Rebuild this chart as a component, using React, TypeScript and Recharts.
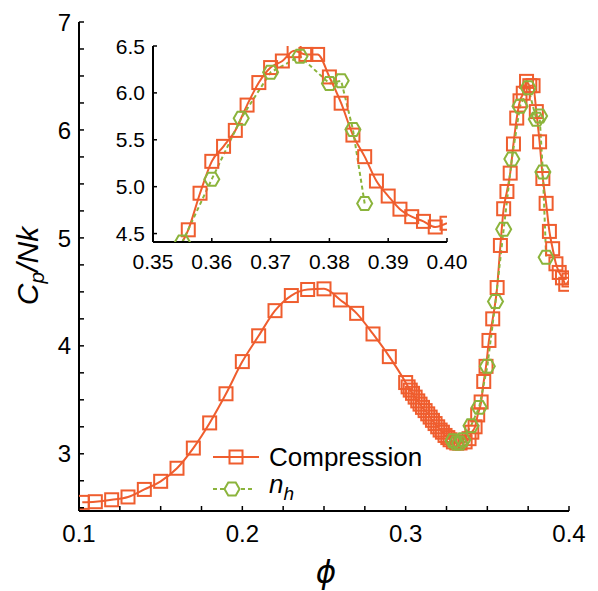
import React from 'react';
import { LineChart, Line, XAxis, YAxis, Legend } from 'recharts';

// compression run (squares)
const compPhi = [
  0.102, 0.11, 0.12, 0.13, 0.14, 0.15, 0.16, 0.17, 0.18, 0.19, 0.2, 0.21, 0.22, 0.23, 0.24, 0.25, 0.26, 0.27, 0.28, 0.29, 0.3,
  0.3015, 0.3028, 0.3042, 0.3058, 0.3074, 0.3088, 0.3103, 0.3119, 0.3135, 0.315, 0.3164, 0.318, 0.3196, 0.3211, 0.3225,
  0.3241, 0.3258, 0.3272, 0.3292, 0.3313, 0.3333,
  0.3364, 0.3388, 0.3405, 0.3425, 0.3441, 0.3462, 0.3478, 0.3492, 0.351, 0.3533,
  0.356, 0.358, 0.36, 0.362, 0.364, 0.366, 0.368, 0.37, 0.372, 0.374, 0.376, 0.378, 0.38, 0.382, 0.384, 0.386,
  0.388, 0.39, 0.392, 0.394, 0.396, 0.398, 0.4,
];
const compCp = [
  2.55, 2.556, 2.574, 2.6, 2.67, 2.745, 2.866, 3.053, 3.286, 3.556, 3.854, 4.093, 4.326, 4.466, 4.522, 4.528, 4.425, 4.301, 4.11, 3.9, 3.66,
  3.62, 3.59, 3.56, 3.525, 3.49, 3.46, 3.43, 3.4, 3.37, 3.34, 3.31, 3.28, 3.25, 3.22, 3.2,
  3.17, 3.15, 3.13, 3.11, 3.1, 3.1,
  3.11, 3.14, 3.2, 3.25, 3.36, 3.48, 3.67, 3.81, 4.05, 4.25,
  4.54, 4.93, 5.27, 5.43, 5.6, 5.87, 6.11, 6.27, 6.34, 6.45, 6.41, 6.41, 6.17, 5.89, 5.55, 5.32,
  5.06, 4.9, 4.76, 4.68, 4.63, 4.57, 4.61,
];

// n_h run (hexagons)
const nhPhi = [0.329, 0.331, 0.333, 0.335, 0.34, 0.345, 0.35, 0.355, 0.36, 0.365, 0.37, 0.375, 0.38, 0.382, 0.384, 0.386];
const nhCp = [3.12, 3.1, 3.1, 3.13, 3.26, 3.43, 3.81, 4.41, 5.08, 5.73, 6.22, 6.39, 6.1, 6.13, 5.61, 4.82];

// main axes ticks
const mainXTicks = [0.1, 0.125, 0.15, 0.175, 0.2, 0.225, 0.25, 0.275, 0.3, 0.325, 0.35, 0.375, 0.4];
const mainXLabels = [0.1, 0.2, 0.3, 0.4];
const mainYTicks = [2.5, 2.75, 3, 3.25, 3.5, 3.75, 4, 4.25, 4.5, 4.75, 5, 5.25, 5.5, 5.75, 6, 6.25, 6.5, 6.75, 7];
const mainYLabels = [3, 4, 5, 6, 7];

// inset ticks
const insetXTicks = [0.35, 0.36, 0.37, 0.38, 0.39, 0.4];
const insetYTicks = [4.5, 5.0, 5.5, 6.0, 6.5];

const compData = compPhi.map((x, i) => ({ x, y: compCp[i] }));
const nhData = nhPhi.map((x, i) => ({ x, y: nhCp[i] }));

const ORANGE = '#EF5D2E';
const GREEN = '#8BB43C';
const FONT = '"Liberation Sans", Arial, Helvetica, sans-serif';

const SquareDot = (props: any) => {
  const { cx, cy, index } = props;
  if (cx == null || cy == null) return <g key={`s${index}`} />;
  return (
    <rect key={`s${index}`} x={cx - 6.5} y={cy - 6.5} width={13} height={13}
      fill="none" stroke={ORANGE} strokeWidth={2} />
  );
};

const hexPoints = (cx: number, cy: number, r: number) => {
  const pts: string[] = [];
  for (let k = 0; k < 6; k++) {
    const a = (Math.PI / 3) * k;
    pts.push(`${cx + r * Math.cos(a)},${cy + r * Math.sin(a)}`);
  }
  return pts.join(' ');
};

const HexDot = (props: any) => {
  const { cx, cy, index } = props;
  if (cx == null || cy == null) return <g key={`h${index}`} />;
  return <polygon key={`h${index}`} points={hexPoints(cx, cy, 7.5)} fill="none" stroke={GREEN} strokeWidth={2} />;
};

// tick renderers: inward tick marks, labels only on majors
const makeTick = (side: 'bottom' | 'left' | 'top' | 'right', labels: number[], fmt: (v: number) => string, fontSize: number, len: number) =>
  (props: any) => {
    const { x, y, payload } = props;
    const v = payload.value;
    const show = labels.some((l) => Math.abs(l - v) < 1e-9);
    let line = null;
    let text = null;
    if (side === 'bottom') {
      line = <line x1={x} x2={x} y1={y} y2={y - len} stroke="#000" strokeWidth={1.5} />;
      if (show) text = <text x={x} y={y + fontSize * 1.28} textAnchor="middle" fontSize={fontSize} fontFamily={FONT} fill="#000">{fmt(v)}</text>;
    } else if (side === 'top') {
      line = <line x1={x} x2={x} y1={y} y2={y + len} stroke="#000" strokeWidth={1.5} />;
    } else if (side === 'left') {
      line = <line x1={x} x2={x + len} y1={y} y2={y} stroke="#000" strokeWidth={1.5} />;
      if (show) text = <text x={x - 8} y={y} dy="0.36em" textAnchor="end" fontSize={fontSize} fontFamily={FONT} fill="#000">{fmt(v)}</text>;
    } else {
      line = <line x1={x} x2={x - len} y1={y} y2={y} stroke="#000" strokeWidth={1.5} />;
    }
    return <g>{line}{text}</g>;
  };

const axisLine = { stroke: '#000', strokeWidth: 2 };

const LegendContent = () => (
  <div style={{ fontFamily: FONT, fontSize: 26, color: '#000', lineHeight: '32px' }}>
    <div style={{ display: 'flex', alignItems: 'center', height: 32 }}>
      <svg width={50} height={20} style={{ marginRight: 6 }}>
        <line x1={0} x2={46} y1={10} y2={10} stroke={ORANGE} strokeWidth={2} />
        <rect x={16.5} y={3.5} width={13} height={13} fill="none" stroke={ORANGE} strokeWidth={2} />
      </svg>
      <span>Compression</span>
    </div>
    <div style={{ display: 'flex', alignItems: 'center', height: 32 }}>
      <svg width={50} height={20} style={{ marginRight: 6 }}>
        <line x1={0} x2={42} y1={10} y2={10} stroke={GREEN} strokeWidth={2} strokeDasharray="4 3" />
        <polygon points={hexPoints(19, 10, 7.5)} fill="white" stroke={GREEN} strokeWidth={2} />
      </svg>
      <span style={{ fontStyle: 'italic' }}>n<sub style={{ fontSize: 19, verticalAlign: '-0.35em' }}>h</sub></span>
    </div>
  </div>
);

const MainChart = () => (
  <LineChart width={598} height={591} margin={{ top: 22, right: 29, bottom: 40, left: 19 }}>
    <XAxis xAxisId="b" type="number" dataKey="x" domain={[0.1, 0.4]} ticks={mainXTicks} interval={0}
      orientation="bottom" height={40} tickSize={0} tickMargin={0} axisLine={axisLine} tickLine={false}
      tick={makeTick('bottom', mainXLabels, (v) => v.toFixed(1), 24, 5)} allowDataOverflow />
    <XAxis xAxisId="t" type="number" dataKey="x" domain={[0.1, 0.4]} ticks={mainXTicks} interval={0}
      orientation="top" height={0} tickSize={0} tickMargin={0} axisLine={axisLine} tickLine={false}
      tick={makeTick('top', [], (v) => '', 24, 5)} allowDataOverflow />
    <YAxis yAxisId="l" type="number" domain={[2.47, 7]} ticks={mainYTicks} interval={0}
      orientation="left" width={60} tickSize={0} tickMargin={0} axisLine={axisLine} tickLine={false}
      tick={makeTick('left', mainYLabels, (v) => String(v), 24, 5)} allowDataOverflow />
    <YAxis yAxisId="r" type="number" domain={[2.47, 7]} ticks={mainYTicks} interval={0}
      orientation="right" width={0} tickSize={0} tickMargin={0} axisLine={axisLine} tickLine={false}
      tick={makeTick('right', [], (v) => '', 24, 5)} allowDataOverflow />
    <Line xAxisId="b" yAxisId="l" data={compData} dataKey="y" type="monotone" stroke={ORANGE} strokeWidth={2}
      dot={SquareDot} activeDot={false} isAnimationActive={false} />
    <Line xAxisId="b" yAxisId="l" data={nhData} dataKey="y" type="linear" stroke={GREEN} strokeWidth={2}
      strokeDasharray="4 3" dot={HexDot} activeDot={false} isAnimationActive={false} />
    <Legend layout="vertical" align="center" verticalAlign="middle" content={<LegendContent />}
      wrapperStyle={{ left: 213, top: 441, width: 240 }} />
  </LineChart>
);

const InsetChart = () => (
  <LineChart width={400} height={250} margin={{ top: 16, right: 43, bottom: 0, left: 18 }}>
    <XAxis xAxisId="b" type="number" dataKey="x" domain={[0.35, 0.4]} ticks={insetXTicks} interval={0}
      orientation="bottom" height={38} tickSize={0} tickMargin={0} axisLine={axisLine} tickLine={false}
      tick={makeTick('bottom', insetXTicks, (v) => v.toFixed(2), 21, 4)} allowDataOverflow />
    <XAxis xAxisId="t" type="number" dataKey="x" domain={[0.35, 0.4]} ticks={insetXTicks} interval={0}
      orientation="top" height={0} tickSize={0} tickMargin={0} axisLine={axisLine} tickLine={false}
      tick={makeTick('top', [], (v) => '', 21, 4)} allowDataOverflow />
    <YAxis yAxisId="l" type="number" domain={[4.41, 6.5]} ticks={insetYTicks} interval={0}
      orientation="left" width={45} tickSize={0} tickMargin={0} axisLine={axisLine} tickLine={false}
      tick={makeTick('left', insetYTicks, (v) => v.toFixed(1), 21, 4)} allowDataOverflow />
    <YAxis yAxisId="r" type="number" domain={[4.41, 6.5]} ticks={insetYTicks} interval={0}
      orientation="right" width={0} tickSize={0} tickMargin={0} axisLine={axisLine} tickLine={false}
      tick={makeTick('right', [], (v) => '', 21, 4)} allowDataOverflow />
    <Line xAxisId="b" yAxisId="l" data={compData} dataKey="y" type="monotone" stroke={ORANGE} strokeWidth={2}
      dot={SquareDot} activeDot={false} isAnimationActive={false} />
    <Line xAxisId="b" yAxisId="l" data={nhData} dataKey="y" type="linear" stroke={GREEN} strokeWidth={2}
      strokeDasharray="4 3" dot={HexDot} activeDot={false} isAnimationActive={false} />
  </LineChart>
);

export default function App() {
  return (
    <div style={{ position: 'absolute', left: 0, top: 0, width: 598, height: 591, background: '#fff', fontFamily: FONT }}>
      <MainChart />
      <div style={{ position: 'absolute', left: 90, top: 30, width: 400, height: 250 }}>
        <InsetChart />
      </div>
      <div style={{
        position: 'absolute', left: 30, top: 266, transform: 'translate(-50%, -50%) rotate(-90deg)',
        fontSize: 30, fontStyle: 'italic', whiteSpace: 'nowrap', color: '#000',
      }}>
        C<sub style={{ fontSize: 21, verticalAlign: '-0.3em' }}>p</sub>/Nk
      </div>
      <div style={{
        position: 'absolute', left: 326, top: 572, transform: 'translate(-50%, -50%)',
        fontSize: 31, fontStyle: 'italic', color: '#000', fontFamily: '"DejaVu Sans", sans-serif',
      }}>
        ϕ
      </div>
    </div>
  );
}
